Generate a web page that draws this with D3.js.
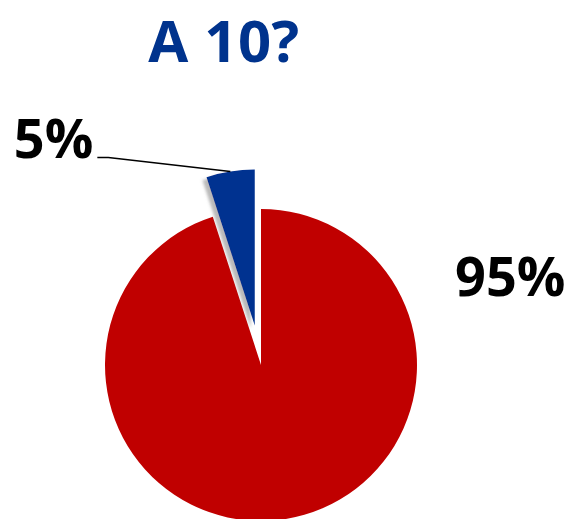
<!DOCTYPE html>
<html>
<head>
<meta charset="utf-8">
<script src="https://cdn.jsdelivr.net/npm/d3@7"></script>
<style>
  html, body { margin: 0; padding: 0; background: #fff; }
  text { font-family: "Open Sans", "Noto Sans", sans-serif; font-weight: 700; }
</style>
</head>
<body>
<script>
// data
const categories = ['Non', 'Oui'];
const values = [95, 5];
const labels = ['95%', '5%'];
const colors = ['#C00000', '#003090'];
const title = 'A 10?';

// config
const config = {
  width: 568,
  height: 519,
  cx: 261,
  cy: 365,
  radius: 156,
  explode: 40, // how far the small slice is pulled out
  titleColor: '#00338D',
  labelSize: 54,
};

let svg = d3.select('body')
  .append('svg')
  .attr('width', config.width)
  .attr('height', config.height);

// drop shadow for the pulled out slice
let defs = svg.append('defs');
defs.append('filter')
  .attr('id', 'shadow')
  .attr('x', '-30%').attr('y', '-30%')
  .attr('width', '160%').attr('height', '160%')
  .append('feDropShadow')
  .attr('dx', -4)
  .attr('dy', 3)
  .attr('stdDeviation', 1.5)
  .attr('flood-color', '#7f7f7f')
  .attr('flood-opacity', 0.55);

svg.append('text')
  .attr('x', 224)
  .attr('y', 62)
  .attr('text-anchor', 'middle')
  .style('font-size', '58px')
  .style('letter-spacing', '0.5px')
  .style('fill', config.titleColor)
  .text(title);

let g = svg.append('g')
  .attr('transform', `translate(${config.cx},${config.cy})`);

let pie = d3.pie()
  .value((d) => d)
  .sort(null)
  .startAngle(0)
  .endAngle(2 * Math.PI);

let arc = d3.arc()
  .innerRadius(0)
  .outerRadius(config.radius);

let slices = pie(values);

// offset along the slice bisector
function offset(d, dist) {
  let a = (d.startAngle + d.endAngle) / 2;
  return [Math.sin(a) * dist, -Math.cos(a) * dist];
}

g.selectAll('.slice')
  .data(slices)
  .enter().append('path')
  .attr('class', 'slice')
  .attr('d', arc)
  .attr('fill', (d, i) => colors[i])
  .attr('filter', (d, i) => (i === 1 ? 'url(#shadow)' : null))
  .attr('transform', (d, i) => {
    if (i !== 1) return null;
    let o = offset(d, config.explode);
    return `translate(${o[0]},${o[1]})`;
  });

// leader line for the small slice
let small = slices[1];
let o = offset(small, config.explode);
let edge = offset(small, config.radius);
let tip = [o[0] + edge[0], o[1] + edge[1]];
let elbow = [tip[0] - 122, tip[1] - 14];

g.append('polyline')
  .attr('points', [[elbow[0] - 11, elbow[1]], elbow, tip].map((p) => p.join(',')).join(' '))
  .attr('fill', 'none')
  .attr('stroke', '#000')
  .attr('stroke-width', 1.5);

g.append('text')
  .attr('x', elbow[0] - 15)
  .attr('y', elbow[1] + 1)
  .attr('text-anchor', 'end')
  .style('font-size', config.labelSize + 'px')
  .style('fill', '#000')
  .text(labels[1]);

g.append('text')
  .attr('x', 194)
  .attr('y', -69)
  .attr('text-anchor', 'start')
  .style('font-size', config.labelSize + 'px')
  .style('fill', '#000')
  .text(labels[0]);
</script>
</body>
</html>
